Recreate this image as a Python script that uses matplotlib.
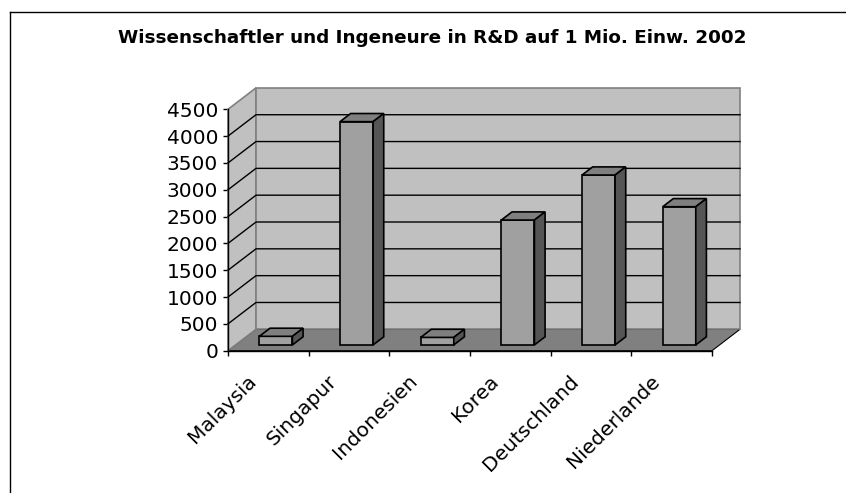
import matplotlib
matplotlib.use("Agg")
import matplotlib.pyplot as plt
from matplotlib.patches import Polygon
from matplotlib.lines import Line2D

# data
countries = ["Malaysia", "Singapur", "Indonesien", "Korea", "Deutschland", "Niederlande"]
researchers = [160, 4162, 140, 2328, 3167, 2576]
y_ticks = list(range(0, 4501, 500))
title = "Wissenschaftler und Ingeneure in R&D auf 1 Mio. Einw. 2002"

W, H = 846, 493
fig = plt.figure(figsize=(W / 100, H / 100), dpi=100)
fig.patch.set_facecolor("white")

# front plane of the 3d box
x_left, x_right = 228, 712
y_bottom, y_top = 350.7, 109.3
ax = fig.add_axes([x_left / W, (H - y_bottom) / H, (x_right - x_left) / W, (y_bottom - y_top) / H])
n = len(countries)
ymax = 4500
ax.set_xlim(-0.5, n - 0.5)
ax.set_ylim(0, ymax)
ax.patch.set_visible(False)

# oblique depth offset (pixels -> data units)
px_x = (x_right - x_left) / n
px_y = (y_bottom - y_top) / ymax
DX = 28 / px_x
DY = 21.4 / px_y


def P(x, y, f):
    return (x + f * DX, y + f * DY)


def poly(pts, fc, ec, lw=1.0, z=1):
    ax.add_patch(Polygon(pts, closed=True, facecolor=fc, edgecolor=ec, lw=lw,
                         zorder=z, clip_on=False, joinstyle="miter"))


x0, x1 = -0.5, n - 0.5
# floor
poly([P(x0, 0, 0), P(x1, 0, 0), P(x1, 0, 1), P(x0, 0, 1)], "#808080", "black", 0.8, 1)
# walls
poly([P(x0, 0, 0), P(x0, 0, 1), P(x0, ymax, 1), P(x0, ymax, 0)], "#C0C0C0", "#808080", 1.2, 2)
poly([P(x0, 0, 1), P(x1, 0, 1), P(x1, ymax, 1), P(x0, ymax, 1)], "#C0C0C0", "#808080", 1.2, 2)

# gridlines
for v in y_ticks[1:-1]:
    a, b, c = P(x0, v, 0), P(x0, v, 1), P(x1, v, 1)
    ax.add_line(Line2D([a[0], b[0], c[0]], [a[1], b[1], c[1]], color="black", lw=1,
                       zorder=3, clip_on=False))

# bars
bw = 0.41
f0, f1 = 0.27, 0.65
for i, v in enumerate(researchers):
    l, r = i - bw / 2, i + bw / 2
    poly([P(l, 0, f0), P(r, 0, f0), P(r, v, f0), P(l, v, f0)], "#A0A0A0", "black", 1.2, 4)
    poly([P(l, v, f0), P(r, v, f0), P(r, v, f1), P(l, v, f1)], "#7F7F7F", "black", 1.2, 4)
    poly([P(r, 0, f0), P(r, 0, f1), P(r, v, f1), P(r, v, f0)], "#555555", "black", 1.2, 4)

# axes
for s in ["top", "right"]:
    ax.spines[s].set_visible(False)
for s in ["left", "bottom"]:
    ax.spines[s].set_color("black")
    ax.spines[s].set_linewidth(1)
    ax.spines[s].set_zorder(5)
ax.set_yticks(y_ticks)
ax.set_yticklabels([str(t) for t in y_ticks], fontsize=14.5)
ax.set_xticks([k - 0.5 for k in range(n + 1)])
ax.set_xticklabels([])
ax.tick_params(axis="both", direction="out", length=3.6, width=1, color="black", pad=3.6)

for i, name in enumerate(countries):
    ax.annotate(name, (i, 0), xytext=(-15.5, -15), textcoords="offset points",
                rotation=45, ha="right", va="top", rotation_mode="anchor", fontsize=14.5)

fig.text(432 / W, 1 - 38 / H, title, ha="center", va="center", fontsize=13.2, fontweight="bold")

# outer frame
fig.add_artist(Line2D([10 / W, 10 / W], [0, 1 - 12 / H], color="black", lw=1, transform=fig.transFigure))
fig.add_artist(Line2D([10 / W, 1], [1 - 12 / H, 1 - 12 / H], color="black", lw=1, transform=fig.transFigure))

fig.savefig("out.png", dpi=100)
